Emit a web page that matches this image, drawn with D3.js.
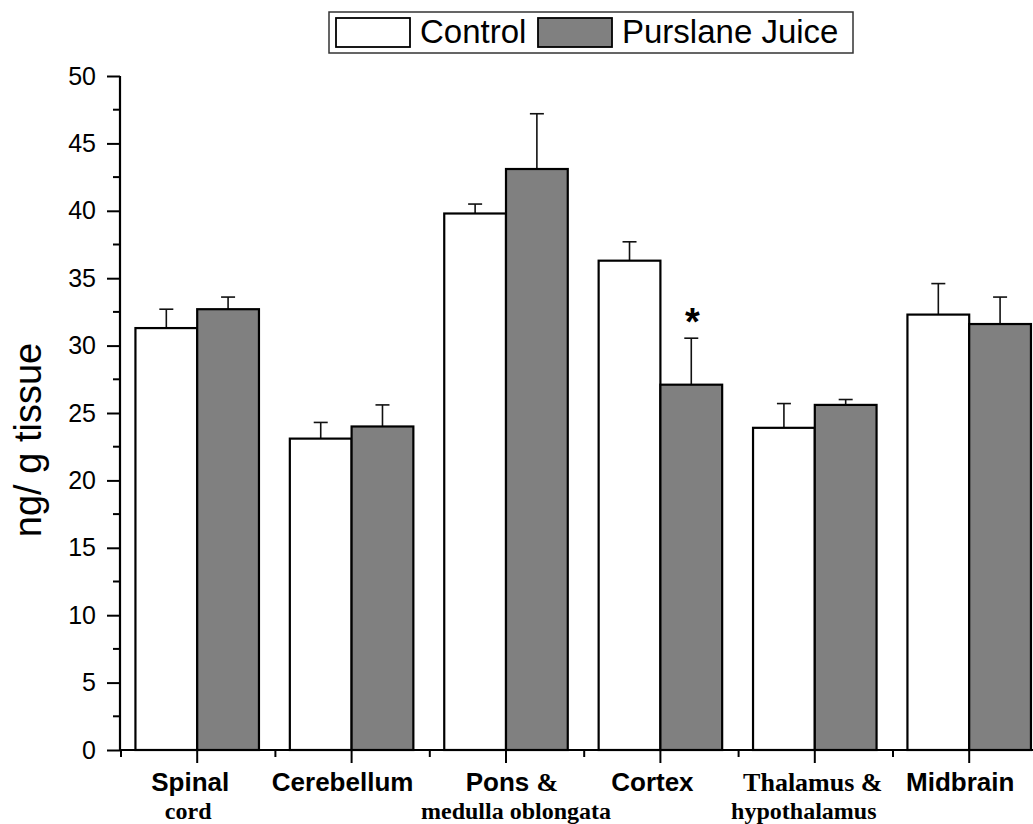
<!DOCTYPE html>
<meta charset="utf-8">
<style>
    body { margin: 0; background: #fff; }
    svg { display: block; }
    .sans { font-family: "Liberation Sans", Arial, Helvetica, sans-serif; }
    .serif { font-family: "Liberation Serif", "Times New Roman", serif; }
    .tick-label { font-size: 25px; }
    .cat { font-size: 26px; font-weight: bold; }
    .cat2 { font-size: 24px; font-weight: bold; }
</style>
<svg width="1033" height="824"></svg>
<script src="https://d3js.org/d3.v7.min.js"></script>
<script>

    // data
    var categories = ["Spinal cord", "Cerebellum", "Pons & medulla oblongata", "Cortex", "Thalamus & hypothalamus", "Midbrain"];
    var control = [31.3, 23.1, 39.8, 36.3, 23.9, 32.3];
    var controlErr = [1.4, 1.2, 0.7, 1.4, 1.8, 2.3];
    var juice = [32.7, 24.0, 43.1, 27.1, 25.6, 31.6];
    var juiceErr = [0.9, 1.6, 4.1, 3.45, 0.4, 2.0];
    var series = ["Control", "Purslane Juice"];
    var colors = ["#ffffff", "#808080"];
    var yTicks = [0, 5, 10, 15, 20, 25, 30, 35, 40, 45, 50];
    var significant = [false, false, false, true, false, false];

    // label lines: [text, font class] pieces per line, and nudges off the tick
    var catLabels = [
        [[["Spinal", "sans"]], [["cord", "serif"]]],
        [[["Cerebellum", "sans"]]],
        [[["Pons ", "sans"], ["&", "serif"]], [["medulla oblongata", "serif"]]],
        [[["Cortex", "sans"]]],
        [[["Thalamus &", "serif"]], [["hypothalamus", "serif"]]],
        [[["Midbrain", "sans"]]]
    ];
    var labelNudge = [[-7, -9], [-9], [6, 10], [-8], [-2, -11], [-9]];

    var svg = d3.select("svg");
    var x0 = 120, y0 = 750;

    var x = d3.scaleBand()
        .domain(categories)
        .range([x0, 1046.4]);

    var xs = d3.scaleBand()
        .domain(series)
        .range([0, x.bandwidth()])
        .paddingOuter(0.25);

    var y = d3.scaleLinear()
        .domain([0, 50])
        .range([y0, 76]);

    var rows = categories.map(function (c, i) {
        return [
            { cat: c, s: series[0], v: control[i], e: controlErr[i], fill: colors[0] },
            { cat: c, s: series[1], v: juice[i], e: juiceErr[i], fill: colors[1] }
        ];
    });

    var groups = svg.selectAll("g.group")
        .data(rows)
        .enter().append("g")
        .attr("class", "group")
        .attr("transform", function (d, i) { return "translate(" + x(categories[i]) + ",0)"; });

    // error bars (drawn first so the bar outline sits on top)
    var err = groups.selectAll("g.err")
        .data(function (d) { return d; })
        .enter().append("g")
        .attr("class", "err")
        .attr("stroke", "#111")
        .attr("stroke-width", 1.6);
    err.append("line")
        .attr("x1", function (d) { return xs(d.s) + xs.bandwidth() / 2; })
        .attr("x2", function (d) { return xs(d.s) + xs.bandwidth() / 2; })
        .attr("y1", function (d) { return y(d.v); })
        .attr("y2", function (d) { return y(d.v + d.e); });
    err.append("line")
        .attr("x1", function (d) { return xs(d.s) + xs.bandwidth() / 2 - 7; })
        .attr("x2", function (d) { return xs(d.s) + xs.bandwidth() / 2 + 7; })
        .attr("y1", function (d) { return y(d.v + d.e); })
        .attr("y2", function (d) { return y(d.v + d.e); });

    groups.selectAll("rect")
        .data(function (d) { return d; })
        .enter().append("rect")
        .attr("x", function (d) { return xs(d.s); })
        .attr("width", xs.bandwidth())
        .attr("y", function (d) { return y(d.v); })
        .attr("height", function (d) { return y0 - y(d.v); })
        .attr("fill", function (d) { return d.fill; })
        .attr("stroke", "#000")
        .attr("stroke-width", 2.2);

    // significance star
    svg.selectAll("text.star")
        .data(categories.filter(function (c, i) { return significant[i]; }))
        .enter().append("text")
        .attr("class", "star sans")
        .attr("x", function (c) { return x(c) + xs(series[1]) + xs.bandwidth() / 2 + 1; })
        .attr("y", function (c) { var i = categories.indexOf(c); return y(juice[i] + juiceErr[i]) - 3; })
        .attr("text-anchor", "middle")
        .attr("font-size", 38)
        .attr("font-weight", "bold")
        .text("*");

    // y axis
    var yAxis = svg.append("g")
        .attr("transform", "translate(" + x0 + ",0)")
        .call(d3.axisLeft(y).tickValues(yTicks).tickSize(13).tickPadding(11));
    yAxis.attr("font-family", null).attr("font-size", null);
    yAxis.select(".domain").attr("stroke-width", 2.2).attr("d", "M0," + y(50) + "V" + (y0 + 1));
    yAxis.selectAll(".tick line").attr("stroke-width", 2);
    yAxis.selectAll(".tick text").attr("class", "tick-label sans").attr("fill", "#000");
    svg.append("g")
        .attr("transform", "translate(" + x0 + ",0)")
        .selectAll("line")
        .data(d3.range(2.5, 50, 5))
        .enter().append("line")
        .attr("x1", -7).attr("x2", 0)
        .attr("y1", function (d) { return y(d); })
        .attr("y2", function (d) { return y(d); })
        .attr("stroke", "#000").attr("stroke-width", 2);

    // x axis
    var xAxis = svg.append("g").attr("transform", "translate(0," + y0 + ")");
    xAxis.append("line")
        .attr("x1", x0 - 1).attr("x2", 1033)
        .attr("stroke", "#000").attr("stroke-width", 2.2);
    xAxis.selectAll("line.major")
        .data(categories)
        .enter().append("line")
        .attr("class", "major")
        .attr("x1", function (c) { return x(c) + x.bandwidth() / 2; })
        .attr("x2", function (c) { return x(c) + x.bandwidth() / 2; })
        .attr("y1", 0).attr("y2", 13)
        .attr("stroke", "#000").attr("stroke-width", 2);
    xAxis.selectAll("line.minor")
        .data(categories)
        .enter().append("line")
        .attr("class", "minor")
        .attr("x1", function (c) { return x(c) + 1; })
        .attr("x2", function (c) { return x(c) + 1; })
        .attr("y1", 0).attr("y2", 7)
        .attr("stroke", "#000").attr("stroke-width", 2);

    // category labels, one text element per line
    categories.forEach(function (c, i) {
        var cx = x(c) + x.bandwidth() / 2;
        catLabels[i].forEach(function (line, li) {
            var t = svg.append("text")
                .attr("class", li === 0 ? "cat" : "cat2")
                .attr("text-anchor", "middle")
                .attr("x", cx + labelNudge[i][li])
                .attr("y", li === 0 ? 791 : 819);
            line.forEach(function (piece) {
                t.append("tspan").attr("class", piece[1]).text(piece[0]);
            });
        });
    });

    // y axis title
    svg.append("text")
        .attr("class", "sans")
        .attr("transform", "translate(41,440) rotate(-90)")
        .attr("text-anchor", "middle")
        .attr("font-size", 38)
        .text("ng/ g tissue");

    // legend
    var legend = svg.append("g");
    legend.append("rect")
        .attr("x", 329).attr("y", 12).attr("width", 524).attr("height", 41)
        .attr("fill", "#fff").attr("stroke", "#333").attr("stroke-width", 1.5);
    var legX = [336, 538];
    var item = legend.selectAll("g.item")
        .data(series)
        .enter().append("g")
        .attr("class", "item")
        .attr("transform", function (d, i) { return "translate(" + legX[i] + ",0)"; });
    item.append("rect")
        .attr("x", 0).attr("y", 18).attr("width", 74).attr("height", 29)
        .attr("fill", function (d, i) { return colors[i]; })
        .attr("stroke", "#000").attr("stroke-width", 1.8);
    item.append("text")
        .attr("class", "sans")
        .attr("x", 84).attr("y", 43)
        .attr("font-size", 33)
        .text(function (d) { return d; });

</script>
